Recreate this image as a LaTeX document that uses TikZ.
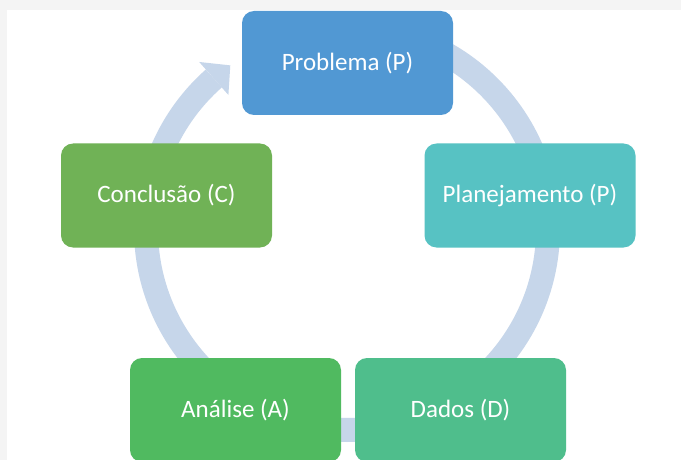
\documentclass[tikz,border=0pt]{standalone}
\usepackage{fontspec}
\setmainfont{Carlito}
\definecolor{bggray}{RGB}{244,244,244}
\definecolor{ringc}{RGB}{198,214,234}
\definecolor{cprob}{RGB}{81,152,211}
\definecolor{cplan}{RGB}{87,194,195}
\definecolor{cdados}{RGB}{79,190,140}
\definecolor{canal}{RGB}{80,186,96}
\definecolor{cconc}{RGB}{112,178,86}
\tikzset{
  stagebox/.style={rectangle, rounded corners=12pt, minimum width=211pt, minimum height=104pt,
    inner sep=0pt, text=white, font=\fontsize{25}{30}\selectfont},
  ring/.style={ringc, line width=24pt}
}
\begin{document}
\begin{tikzpicture}[x=1pt,y=-1pt]
\useasboundingbox (0,0) rectangle (681,460);
\fill[bggray] (0,0) rectangle (681,460);
\fill[white] (7,10) rectangle (681,460);
\coordinate (c) at (347,229);
\draw[ring] ([shift={(-90:201)}]c) arc[start angle=-90, end angle=228.5, radius=201];
\fill[ringc] ([shift={(228.5:179)}]c) -- ([shift={(234.5:201)}]c) -- ([shift={(228.5:223)}]c) -- cycle;
\node[stagebox, fill=cprob] (prob) at (347.5,63) {Problema (P)};
\node[stagebox, fill=cplan] (plan) at (530,195.5) {Planejamento (P)};
\node[stagebox, fill=cconc] (conc) at (166.5,195.5) {Conclusão (C)};
\node[stagebox, fill=canal] (anal) at (235.5,410) {Análise (A)};
\node[stagebox, fill=cdados] (dados) at (460.5,410) {Dados (D)};
\end{tikzpicture}
\end{document}
